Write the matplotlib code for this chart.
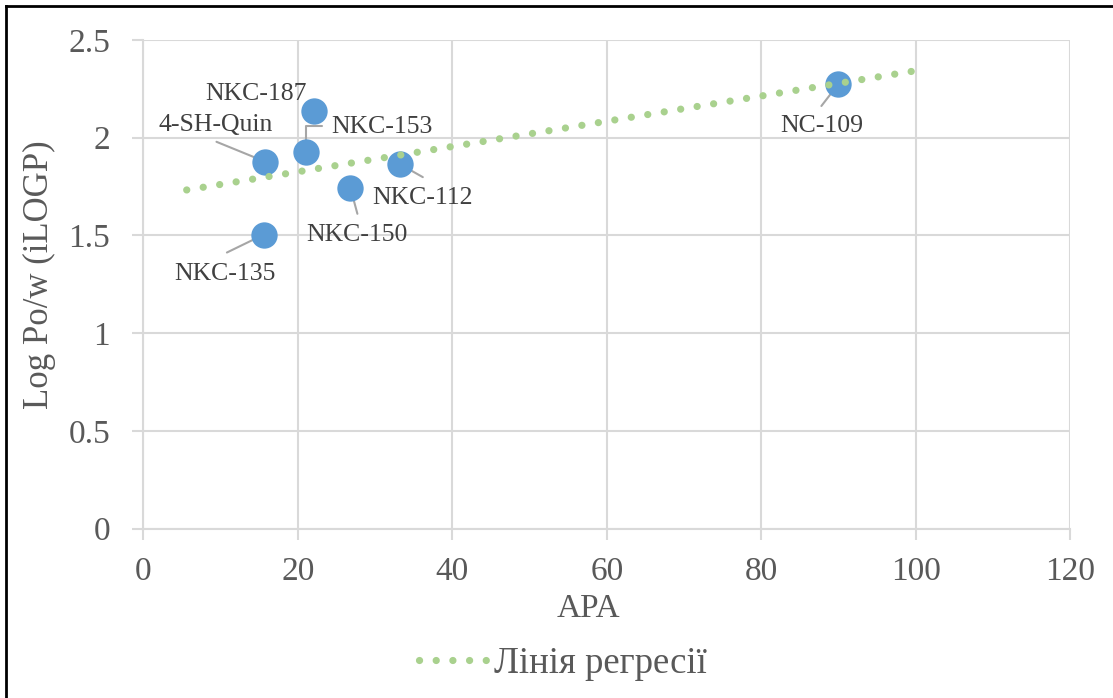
import numpy as np
import matplotlib
matplotlib.use('Agg')
import matplotlib.pyplot as plt
from matplotlib.lines import Line2D

plt.rcParams['font.family'] = ['Liberation Serif', 'DejaVu Serif']

# data
names = ['4-SH-Quin', 'NKC-135', 'NKC-187', 'NKC-153', 'NKC-150', 'NKC-112', 'NC-109']
apa = [15.8, 15.6, 22.1, 21.1, 26.8, 33.2, 90.0]
logp = [1.877, 1.505, 2.135, 1.927, 1.744, 1.865, 2.275]

x_ticks = [0, 20, 40, 60, 80, 100, 120]
y_ticks = [0, 0.5, 1, 1.5, 2, 2.5]
y_tick_labels = ['0', '0.5', '1', '1.5', '2', '2.5']

# label placement: text offset and leader end (pixels from the point)
label_pos = {
    '4-SH-Quin': ((-50, 37), (-49, 20)),
    'NKC-135': ((-39, -39), (-37, -18)),
    'NKC-187': ((-58, 17), None),
    'NKC-153': ((76, 25), (16, 26)),
    'NKC-150': ((7, -47), (7, -26)),
    'NKC-112': ((23, -34), (23, -13)),
    'NC-109': ((-17, -42), (-17, -22)),
}

grey = '#595959'
blue = '#5B9BD5'
green = '#A9D18E'
grid_c = '#D9D9D9'

fig = plt.figure(figsize=(11.13, 6.98), dpi=100)
ax = fig.add_axes([0.1289, 0.2425, 0.8325, 0.7002])

# regression line, forecast 10 units both ways (like excel)
k, b = np.polyfit(apa, logp, 1)
xt = np.array([min(apa) - 10, max(apa) + 10])
ax.plot(xt, k * xt + b, color=green, lw=5.2, linestyle=(0, (0.01, 2.3)),
        dash_capstyle='round', label='Лінія регресії', zorder=3)

ax.scatter(apa, logp, s=360, color=blue, zorder=2, linewidths=0)

for n, x, y in zip(names, apa, logp):
    toff, lend = label_pos[n]
    ax.annotate(n, (x, y), xytext=toff, textcoords='offset pixels',
                ha='center', va='center', fontsize=18.5, color='#404040', zorder=4)
    if lend is None:
        continue
    cs = 'angle,angleA=0,angleB=90,rad=0' if n == 'NKC-153' else 'arc3'
    ax.annotate('', (x, y), xytext=lend, textcoords='offset pixels',
                arrowprops=dict(arrowstyle='-', color='#A6A6A6', lw=1.5,
                                shrinkA=0, shrinkB=0, connectionstyle=cs),
                zorder=1)

ax.set_xlim(0, 120)
ax.set_ylim(0, 2.5)
ax.set_xticks(x_ticks)
ax.set_yticks(y_ticks)
ax.set_yticklabels(y_tick_labels)
ax.grid(True, color=grid_c, lw=1.5, zorder=0)
ax.set_axisbelow(True)

for s in ['top', 'right']:
    ax.spines[s].set_visible(False)
for s in ['left', 'bottom']:
    ax.spines[s].set_color(grid_c)
    ax.spines[s].set_linewidth(1.5)
ax.tick_params(axis='both', colors=grid_c, length=8, width=1.5,
               labelcolor=grey, labelsize=24)
ax.tick_params(axis='y', pad=16)
ax.tick_params(axis='x', pad=12)

ax.set_xlabel('APA', fontsize=24, color=grey)
ax.xaxis.set_label_coords(0.48, -0.133)
ax.set_ylabel('Log Po/w (iLOGP)', fontsize=25, color=grey, va='center')
ax.yaxis.set_label_coords(-0.112, 0.52)

fig.legend(loc='center', bbox_to_anchor=(563 / 1113, 1 - 664 / 698), frameon=False,
           fontsize=26.5, labelcolor=grey, handlelength=1.9, handletextpad=0.15)

# outer frame (only top and left edges show)
fig.add_artist(Line2D([6 / 1113, 6 / 1113], [0, 1 - 6 / 698], color='black', lw=2,
                      transform=fig.transFigure))
fig.add_artist(Line2D([6 / 1113, 1], [1 - 6 / 698, 1 - 6 / 698], color='black', lw=2,
                      transform=fig.transFigure))

fig.savefig('out.png', dpi=100)
